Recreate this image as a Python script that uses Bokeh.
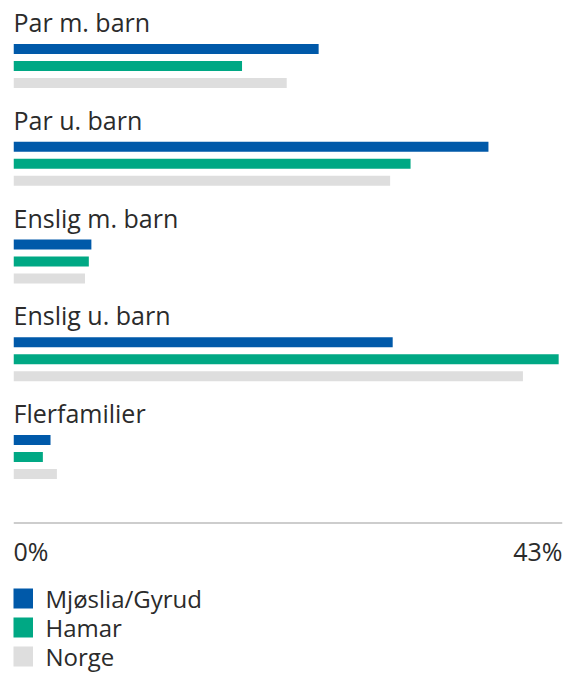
from bokeh.plotting import figure
from bokeh.models import Range1d, ColumnDataSource, Span
from bokeh.core.properties import value
from bokeh.embed import file_html
from bokeh.resources import INLINE

# ---- data ----
categories = ["Par m. barn", "Par u. barn", "Enslig m. barn", "Enslig u. barn", "Flerfamilier"]
series_names = ["Mjøslia/Gyrud", "Hamar", "Norge"]
mjoslia = [23.9, 37.2, 6.1, 29.7, 2.9]
hamar = [17.9, 31.1, 5.9, 42.7, 2.3]
norge = [21.4, 29.5, 5.6, 39.9, 3.4]
x_max = 43
tick_values = [0, 43]
tick_labels = ["0%", "43%"]

# ---- style / layout ----
colors = ["#0059A9", "#00A884", "#DEDEDE"]
text_color = "#2b2b2b"
FONT = "Open Sans"
GROUP0 = 48.5       # centre of first bar (px from top)
GROUP_STEP = 97.75
BAR_STEP = 17.0
BAR_H = 10.0
AXIS_Y = 522.5
TICK_MID = 550.5
LEG_Y0 = 598
LEG_STEP = 29
FRAME_W = 549

p = figure(width=563, height=673,
           x_range=Range1d(0, x_max), y_range=Range1d(673, 0),
           min_border_left=13, min_border_right=1, min_border_top=0, min_border_bottom=0,
           toolbar_location=None, output_backend="svg")
p.axis.visible = False
p.grid.visible = False
p.outline_line_color = None
p.background_fill_color = "white"
p.border_fill_color = "white"

all_series = [mjoslia, hamar, norge]
for s, (vals, col) in enumerate(zip(all_series, colors)):
    ys = [GROUP0 + i * GROUP_STEP + s * BAR_STEP for i in range(len(categories))]
    src = ColumnDataSource(dict(y=ys, right=vals))
    p.hbar(y="y", left=0, right="right", height=BAR_H, source=src,
           fill_color=col, line_color=None)

# category labels
lab_src = ColumnDataSource(dict(
    x=[0] * len(categories),
    y=[GROUP0 + i * GROUP_STEP - 27 for i in range(len(categories))],
    t=categories))
p.text(x="x", y="y", text="t", source=lab_src, text_font=value(FONT),
       text_font_size="25px", text_color=text_color, text_baseline="middle",
       text_align="left")

# axis line
p.add_layout(Span(location=AXIS_Y, dimension="width", line_color="#BDBDBD", line_width=1.5))

# tick labels
p.text(x=[tick_values[0]], y=[TICK_MID], text=[tick_labels[0]], text_font=value(FONT),
       text_font_size="25px", text_color=text_color, text_baseline="middle", text_align="left")
p.text(x=[tick_values[1]], y=[TICK_MID], text=[tick_labels[1]], text_font=value(FONT),
       text_font_size="25px", text_color=text_color, text_baseline="middle", text_align="right")

# legend (manual)
leg_y = [LEG_Y0 + k * LEG_STEP for k in range(len(series_names))]
sq_x = 9.5 * x_max / FRAME_W  # centre of 20px square, in data units
p.rect(x=[sq_x] * 3, y=leg_y, width=20, height=20, width_units="screen", height_units="screen",
       fill_color=colors, line_color=None)
txt_x = 32.0 * x_max / FRAME_W
p.text(x=[txt_x] * 3, y=leg_y, text=series_names, text_font=value(FONT),
       text_font_size="24px", text_color=text_color, text_baseline="middle", text_align="left")

open("out.html", "w").write(file_html(p, INLINE))
